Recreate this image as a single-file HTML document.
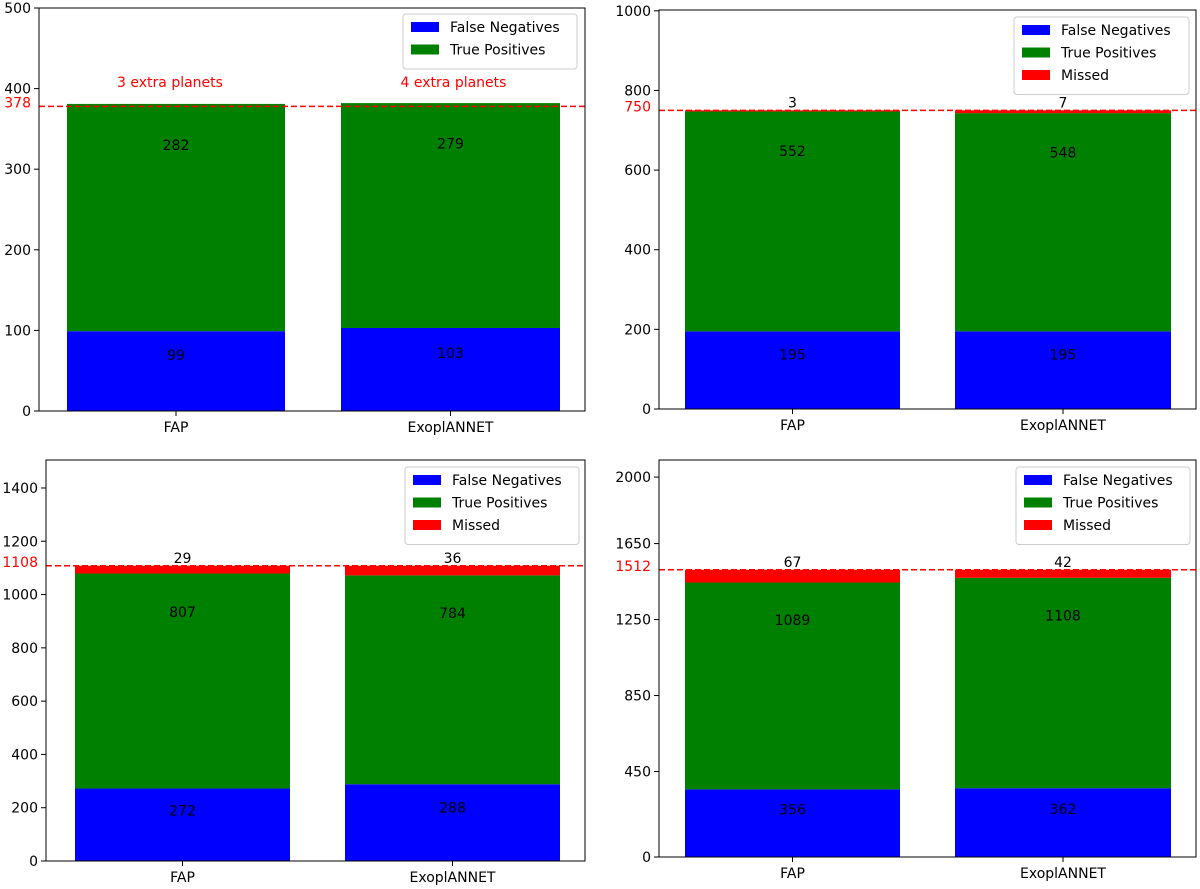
<!DOCTYPE html>
<html><head><meta charset="utf-8"><style>
body{margin:0;background:#fff;}
svg{display:block;font-family:"DejaVu Sans","Liberation Sans",sans-serif;}
</style></head><body>
<svg id="chart" width="1200" height="889"></svg>
<script>
const categories = ["FAP", "ExoplANNET"];
const fn1 = [99, 103], tp1 = [282, 279], miss1 = [0, 0];
const fn2 = [195, 195], tp2 = [552, 548], miss2 = [3, 7];
const fn3 = [272, 288], tp3 = [807, 784], miss3 = [29, 36];
const fn4 = [356, 362], tp4 = [1089, 1108], miss4 = [67, 42];
const refLines = [378, 750, 1108, 1512];
const ticks1 = [0, 100, 200, 300, 400, 500];
const ticks2 = [0, 200, 400, 600, 800, 1000];
const ticks3 = [0, 200, 400, 600, 800, 1000, 1200, 1400];
const ticks4 = [0, 450, 850, 1250, 1650, 2000];
const extraLabels = ["3 extra planets", "4 extra planets"];

const NS = "http://www.w3.org/2000/svg";
const svg = document.getElementById("chart");
function mk(tag, attrs, parent, text){
  const e = document.createElementNS(NS, tag);
  for (const k in attrs) e.setAttribute(k, attrs[k]);
  if (text !== undefined) e.textContent = text;
  (parent || svg).appendChild(e);
  return e;
}
const panels = [
  {L:39,R:585,T:8,B:411,ymax:500,fn:fn1,tp:tp1,miss:miss1,ticks:ticks1,bars:[[67,285],[341,560]],leg:[403,14,174],showMiss:false},
  {L:659,R:1196,T:10,B:409,ymax:1002,fn:fn2,tp:tp2,miss:miss2,ticks:ticks2,bars:[[685,900],[955,1171]],leg:[1014,17,175],showMiss:true},
  {L:46,R:585,T:460,B:861,ymax:1505,fn:fn3,tp:tp3,miss:miss3,ticks:ticks3,bars:[[75,290],[345,560]],leg:[405,467,174],showMiss:true},
  {L:659,R:1196,T:460,B:857,ymax:2090,fn:fn4,tp:tp4,miss:miss4,ticks:ticks4,bars:[[685,900],[955,1171]],leg:[1016,467,174],showMiss:true}
];
panels.forEach((p, pi) => {
  const g = mk("g", {});
  
  
  const y = v => p.B - v / p.ymax * (p.B - p.T);
  categories.forEach((c, i) => {
    const [x0, x1] = p.bars[i];
    const w = x1 - x0, cx = (x0 + x1) / 2;
    const segs = [[0, p.fn[i], "#0000ff", "fn"], [p.fn[i], p.fn[i] + p.tp[i], "#008000", "tp"]];
    if (p.miss[i] > 0) segs.push([p.fn[i] + p.tp[i], p.fn[i] + p.tp[i] + p.miss[i], "#ff0000", "missed"]);
    segs.forEach(s => {
      const r = mk("rect", {x:x0, y:y(s[1]), width:w, height:y(s[0]) - y(s[1]), fill:s[2]}, g);
      
      
    });
    const t1 = mk("text", {x:cx, y:y(p.fn[i] * 0.7) + 5, "text-anchor":"middle", "font-size":14}, g, String(p.fn[i]));
    
    
    const t2 = mk("text", {x:cx, y:y(p.fn[i] + p.tp[i] * 0.82) + 5, "text-anchor":"middle", "font-size":14}, g, String(p.tp[i]));
    
    
    if (p.showMiss) {
      const t3 = mk("text", {x:cx, y:y(p.fn[i] + p.tp[i] + p.miss[i]) - 3, "text-anchor":"middle", "font-size":14}, g, String(p.miss[i]));
      
      
    } else {
      const t4 = mk("text", {x:cx - 6 + i * 9, y:87, "text-anchor":"middle", "font-size":14, fill:"#ff0000"}, g, extraLabels[i]);
      
      
    }
    mk("line", {x1:cx, x2:cx, y1:p.B, y2:p.B + 5, stroke:"#000"}, g);
    const xt = mk("text", {x:cx, y:p.B + 21, "text-anchor":"middle", "font-size":14}, g, c);
    
    
  });
  const ry = y(refLines[pi]);
  const rl = mk("line", {x1:p.L, x2:p.R, y1:ry, y2:ry, stroke:"#ff0000", "stroke-width":1.5, "stroke-dasharray":"6,3"}, g);
  
  
  const rt = mk("text", {x:p.L - 8, y:ry + 1, "text-anchor":"end", "font-size":14, fill:"#ff0000"}, g, String(refLines[pi]));
  
  
  p.ticks.forEach(v => {
    const ty = y(v);
    mk("line", {x1:p.L - 5, x2:p.L, y1:ty, y2:ty, stroke:"#000"}, g);
    const t = mk("text", {x:p.L - 8, y:ty + 5, "text-anchor":"end", "font-size":14}, g, String(v));
    
    
  });
  const fr = mk("rect", {x:p.L, y:p.T, width:p.R - p.L, height:p.B - p.T, fill:"none", stroke:"#000", "stroke-width":1}, g);
  
  
  const [lx, ly, lw] = p.leg;
  const items = [["False Negatives", "#0000ff"], ["True Positives", "#008000"]];
  if (p.showMiss) items.push(["Missed", "#ff0000"]);
  const lg = mk("g", {}, g);
  
  
  mk("rect", {x:lx, y:ly, width:lw, height:10 + items.length * 22.5, rx:3, fill:"#fff", "fill-opacity":0.85, stroke:"#ccc"}, lg);
  items.forEach((it, k) => {
    const e = mk("g", {}, lg);
    
    
    mk("rect", {x:lx + 8, y:ly + 8 + k * 22.5, width:28, height:10, fill:it[1]}, e);
    mk("text", {x:lx + 47, y:ly + 18 + k * 22.5, "font-size":14}, e, it[0]);
  });
});
</script>
</body></html>
